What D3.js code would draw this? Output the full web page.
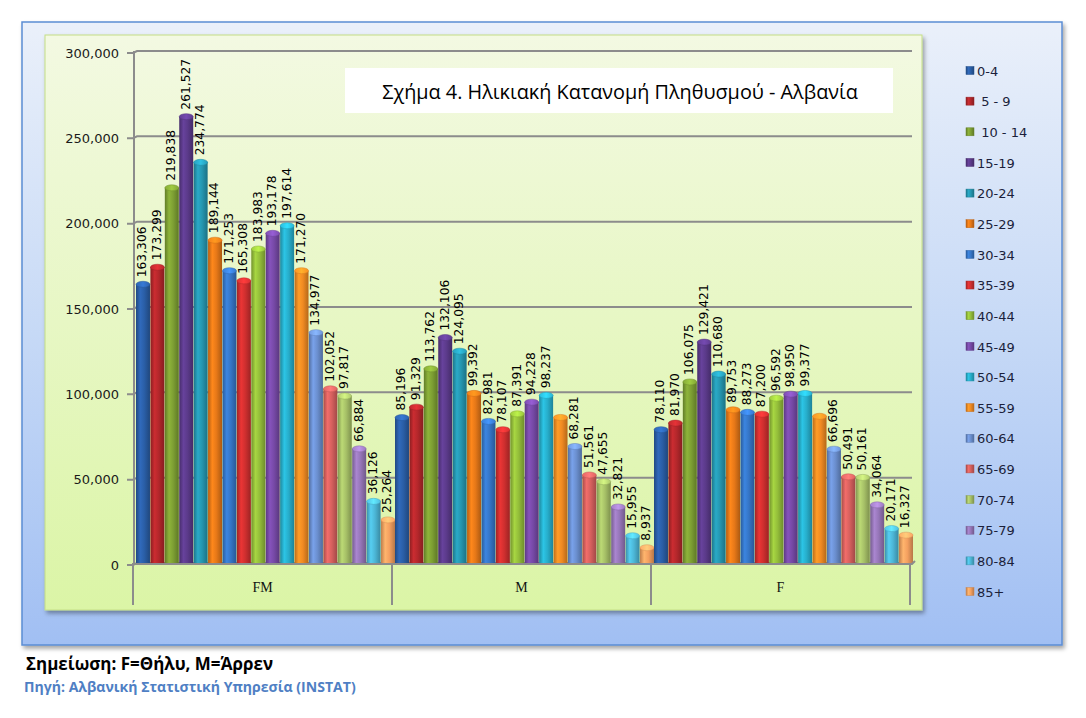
<!DOCTYPE html>
<html>
<head>
<meta charset="utf-8">
<script src="https://cdn.jsdelivr.net/npm/d3@7"></script>
<style>
  html, body { margin: 0; padding: 0; background: #ffffff; }
  svg { display: block; }
</style>
</head>
<body>
<svg id="chart" width="1086" height="718"></svg>
<script>
// ---------- DATA ----------
const groups = ["FM", "M", "F"];
const ageGroups = ["0-4","5-9","10-14","15-19","20-24","25-29","30-34","35-39","40-44","45-49","50-54","55-59","60-64","65-69","70-74","75-79","80-84","85+"];
const legendLabels = ["0-4"," 5 - 9"," 10 - 14","15-19","20-24","25-29","30-34","35-39","40-44","45-49","50-54","55-59","60-64","65-69","70-74","75-79","80-84","85+"];
const valuesFM = [163306,173299,219838,261527,234774,189144,171253,165308,183983,193178,197614,171270,134977,102052,97817,66884,36126,25264];
const valuesM  = [85196,91329,113762,132106,124095,99392,82981,78107,87391,94228,98237,85300,68281,51561,47655,32821,15955,8937];
const valuesF  = [78110,81970,106075,129421,110680,89753,88273,87200,96592,98950,99377,85970,66696,50491,50161,34064,20171,16327];
// labels not printed in the original chart (group, age)
const hiddenLabels = [["M","55-59"],["F","55-59"]];
const yTicks = [0,50000,100000,150000,200000,250000,300000];
const colors = ["#2a5ea6","#b3272b","#7d9f33","#5b3a8a","#2596b0","#e67818","#3575c6","#cf2f2f","#93bd3a","#7649a6","#27aecb","#f08a22","#6b8fcf","#d6605e","#a6c067","#9676b8","#4cb6d6","#f4a060"];
const titleText = "Σχήμα 4. Ηλικιακή Κατανομή Πληθυσμού - Αλβανία";
const noteText = "Σημείωση: F=Θήλυ, M=Άρρεν";
const sourceText = "Πηγή: Αλβανική Στατιστική Υπηρεσία (INSTAT)";

const seriesByGroup = { FM: valuesFM, M: valuesM, F: valuesF };

// ---------- SETUP ----------
const svg = d3.select("#chart");
const defs = svg.append("defs");

const outerG = defs.append("linearGradient").attr("id","outerGrad").attr("x1",0).attr("y1",0).attr("x2",0).attr("y2",1);
outerG.append("stop").attr("offset","0%").attr("stop-color","#eaf0fa");
outerG.append("stop").attr("offset","50%").attr("stop-color","#c6d9f6");
outerG.append("stop").attr("offset","100%").attr("stop-color","#a1bff3");

const greenG = defs.append("linearGradient").attr("id","greenGrad").attr("x1",0).attr("y1",0).attr("x2",0).attr("y2",1);
greenG.append("stop").attr("offset","0%").attr("stop-color","#f3f9e2");
greenG.append("stop").attr("offset","100%").attr("stop-color","#dbf5a6");

const shadow = defs.append("filter").attr("id","shadow").attr("x","-5%").attr("y","-5%").attr("width","110%").attr("height","115%");
shadow.append("feDropShadow").attr("dx",2).attr("dy",3).attr("stdDeviation",2).attr("flood-color","#000").attr("flood-opacity",0.35);

colors.forEach((c, i) => {
  const base = d3.color(c);
  const g = defs.append("linearGradient").attr("id","bar"+i).attr("x1",0).attr("y1",0).attr("x2",1).attr("y2",0);
  g.append("stop").attr("offset","0%").attr("stop-color", base.darker(0.7));
  g.append("stop").attr("offset","30%").attr("stop-color", base.brighter(0.35));
  g.append("stop").attr("offset","60%").attr("stop-color", base);
  g.append("stop").attr("offset","100%").attr("stop-color", base.darker(0.8));
  const cap = defs.append("linearGradient").attr("id","cap"+i).attr("x1",0).attr("y1",0).attr("x2",1).attr("y2",0);
  cap.append("stop").attr("offset","0%").attr("stop-color", base.brighter(0.2));
  cap.append("stop").attr("offset","50%").attr("stop-color", base.brighter(0.7));
  cap.append("stop").attr("offset","100%").attr("stop-color", base.brighter(0.1));
});

// ---------- PANELS ----------
svg.append("rect").attr("x",22).attr("y",22).attr("width",1040).attr("height",623)
  .attr("fill","url(#outerGrad)").attr("stroke","#5b8dd4").attr("stroke-width",1.5)
  .attr("filter","url(#shadow)");
svg.append("rect").attr("x",45).attr("y",35).attr("width",877).attr("height",575)
  .attr("fill","url(#greenGrad)").attr("stroke","#c4de86").attr("stroke-width",1)
  .attr("filter","url(#shadow)");

// ---------- SCALES ----------
const plotLeft = 133, plotRight = 910;
const y = d3.scaleLinear().domain([0,300000]).range([563,51]);
const x0 = d3.scaleBand().domain(groups).range([plotLeft, plotRight]).padding(0);
const x1 = d3.scaleBand().domain(ageGroups).range([3, x0.bandwidth()+3]).paddingInner(0.03).paddingOuter(0);

// ---------- GRID + Y AXIS ----------
const gridG = svg.append("g");
gridG.selectAll("path.grid").data(yTicks).join("path")
  .attr("class","grid")
  .attr("d", d => `M${plotLeft-6},${y(d)+2} L${plotLeft},${y(d)+2} L${plotLeft+4},${y(d)} L${plotRight+2},${y(d)}`)
  .attr("fill","none").attr("stroke","#8c8c8c").attr("stroke-width",2);
gridG.append("line").attr("x1",plotLeft+1).attr("x2",plotLeft+1).attr("y1",y(300000)).attr("y2",y(0)+2)
  .attr("stroke","#8c8c8c").attr("stroke-width",2);

const yAxis = d3.axisLeft(y).tickValues(yTicks).tickFormat(d3.format(",")).tickSize(0).tickPadding(0);
const yAxisG = svg.append("g").attr("transform",`translate(119,2)`).call(yAxis);
yAxisG.select(".domain").remove();
yAxisG.selectAll("text").attr("font-family","DejaVu Sans, Verdana, sans-serif").attr("font-size","13px").attr("fill","#1a1a1a");

// ---------- CATEGORY FLOOR ----------
const floorG = svg.append("g");
floorG.selectAll("line.sep").data(groups.concat(["end"])).join("line")
  .attr("class","sep")
  .attr("x1", (d,i) => i < groups.length ? x0(d) : plotRight)
  .attr("x2", (d,i) => i < groups.length ? x0(d) : plotRight)
  .attr("y1", y(0)).attr("y2", 605)
  .attr("stroke","#8c8c8c").attr("stroke-width",2);

const xAxis = d3.axisBottom(x0).tickSize(0).tickPadding(0);
const xAxisG = svg.append("g").attr("transform",`translate(0,${y(0)+19})`).call(xAxis);
xAxisG.select(".domain").remove();
xAxisG.selectAll("text").attr("font-family","Liberation Serif, Times New Roman, serif").attr("font-size","14px").attr("fill","#111");

// ---------- BARS (cylinders) ----------
const capRy = 3;
const hiddenSet = new Set(hiddenLabels.map(h => h[0]+"|"+h[1]));
const barData = [];
groups.forEach(g => {
  seriesByGroup[g].forEach((v, i) => barData.push({ group: g, age: ageGroups[i], idx: i, value: v }));
});

const barsG = svg.append("g");
const bar = barsG.selectAll("g.bar").data(barData).join("g").attr("class","bar")
  .attr("transform", d => `translate(${x0(d.group) + x1(d.age)},0)`);
const bw = x1.bandwidth();
bar.append("rect")
  .attr("x",0).attr("y", d => y(d.value)).attr("width", bw).attr("height", d => y(0) - y(d.value))
  .attr("fill", d => `url(#bar${d.idx})`);
bar.append("ellipse")
  .attr("cx", bw/2).attr("cy", d => y(d.value)).attr("rx", bw/2).attr("ry", capRy)
  .attr("fill", d => `url(#cap${d.idx})`)
  .attr("stroke", d => d3.color(colors[d.idx]).darker(0.3)).attr("stroke-width",0.5);

// base line drawn over bars
svg.append("path")
  .attr("d", `M${plotLeft},${y(0)+1} L${plotRight+2},${y(0)+1} L${plotRight+5},${y(0)-2}`)
  .attr("fill","none").attr("stroke","#8c8c8c").attr("stroke-width",2);

// value labels
const fmt = d3.format(",");
bar.filter(d => !hiddenSet.has(d.group+"|"+d.age)).append("text")
  .attr("transform", d => `translate(${bw/2 - 1},${y(d.value) - capRy - 4}) rotate(-90)`)
  .attr("dy","0.36em")
  .attr("font-family","DejaVu Sans, Verdana, sans-serif").attr("font-size","12.3px").attr("fill","#000")
  .text(d => fmt(d.value));

// ---------- TITLE ----------
svg.append("rect").attr("x",345).attr("y",68).attr("width",548).attr("height",45).attr("fill","#ffffff");
const title = svg.append("text").attr("x",620).attr("y",91).attr("text-anchor","middle").attr("dominant-baseline","central")
  .attr("font-family","Open Sans, Noto Sans, sans-serif").attr("font-size","17px").attr("fill","#000")
  .text(titleText);
function fitWidth(sel, target) {
  const len = sel.node().getComputedTextLength();
  const fs = parseFloat(sel.attr("font-size"));
  if (len > 0) sel.attr("font-size", (fs * target / len).toFixed(2) + "px");
}
fitWidth(title, 476);

// ---------- LEGEND ----------
const legY = d3.scalePoint().domain(legendLabels.map((d,i)=>i)).range([71, 592]);
const leg = svg.append("g").selectAll("g").data(legendLabels).join("g")
  .attr("transform", (d,i) => `translate(966,${legY(i)})`);
leg.append("rect").attr("x",0).attr("y",-4.5).attr("width",8).attr("height",8)
  .attr("fill", (d,i) => `url(#bar${i})`).attr("stroke", (d,i) => d3.color(colors[i]).darker(0.5)).attr("stroke-width",0.5);
leg.append("text").attr("x",11).attr("y",0).attr("dy","0.36em")
  .attr("font-family","DejaVu Sans, Verdana, sans-serif").attr("font-size","13px").attr("fill","#1b1f3b")
  .attr("xml:space","preserve").style("white-space","pre")
  .text(d => d);

// ---------- FOOTER ----------
const note = svg.append("text").attr("x",26).attr("y",663).attr("dominant-baseline","central")
  .attr("font-family","Open Sans, Noto Sans, sans-serif").attr("font-weight","bold").attr("font-size","14px").attr("fill","#000")
  .text(noteText);
fitWidth(note, 247);
const src = svg.append("text").attr("x",24).attr("y",686).attr("dominant-baseline","central")
  .attr("font-family","Open Sans, Noto Sans, sans-serif").attr("font-weight","bold").attr("font-size","13px").attr("fill","#4f7fc4")
  .text(sourceText);
fitWidth(src, 332);
</script>
</body>
</html>
